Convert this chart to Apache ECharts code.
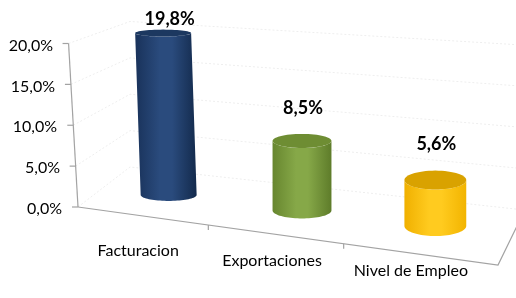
<!DOCTYPE html>
<html>
<head>
<meta charset="utf-8">
<script src="https://cdn.jsdelivr.net/npm/echarts@6/dist/echarts.min.js"></script>
<style>
  html, body { margin: 0; padding: 0; background: #fff; }
  #chart { width: 516px; height: 298px; }
</style>
</head>
<body>
<div id="chart"></div>
<script>
// data
const categories = ['Facturacion', 'Exportaciones', 'Nivel de Empleo'];
const values = [19.8, 8.5, 5.6];
const valueLabels = ['19,8%', '8,5%', '5,6%'];
const yTicks = [0, 5, 10, 15, 20];
const yTickLabels = ['0,0%', '5,0%', '10,0%', '15,0%', '20,0%'];

// cylinder colours: left edge, highlight, right edge, top face
const barColors = [
  ['#19325a', '#2a4b7d', '#132a4c', '#1c3860'],
  ['#67862f', '#86a848', '#5e7c2a', '#6e8d33'],
  ['#f0b000', '#ffcb1f', '#f2b400', '#d9a200']
];

const FONT = 'Lato, "Open Sans", sans-serif';

// fake 3D camera: the floor behind the bars slopes down to the right
const FLOOR_SLOPE = 0.116;
const FLOOR_LIFT = -19.8;
const LABEL_MIN_Y = 19;

function lean(x) {
  // verticals lean a little on the left side of the picture
  return Math.max(0, 0.00026 * (300 - x));
}
function ellipseRy(x, y) {
  return Math.max(2.5, 6 + 0.015 * (y - 196) + 0.014 * (x - 170));
}
function ellipsePts(cx, cy, rx, ry, a0, a1, n) {
  const pts = [];
  for (let i = 0; i <= n; i++) {
    const a = a0 + (a1 - a0) * i / n;
    pts.push([cx + rx * Math.cos(a), cy + ry * Math.sin(a)]);
  }
  return pts;
}

function renderCylinder(params, api) {
  const idx = params.dataIndex;
  const L = params.coordSys.x;
  const p0 = api.coord([idx, 0]);
  const p1 = api.coord([idx, api.value(1)]);
  const h = p0[1] - p1[1];
  const bx = p0[0];
  const by = p0[1] + FLOOR_LIFT + FLOOR_SLOPE * (p0[0] - L);
  const tx = bx - lean(bx) * h;
  const ty = by - h;
  const rx = 28 + 0.011 * (bx - 170);
  const ryB = ellipseRy(bx, by);
  const ryT = ellipseRy(tx, ty);
  const c = barColors[idx];

  let body = [[tx - rx, ty], [bx - rx, by]];
  body = body.concat(ellipsePts(bx, by, rx, ryB, Math.PI, 0, 40));
  body.push([tx + rx, ty]);
  body = body.concat(ellipsePts(tx, ty, rx, ryT, 0, Math.PI, 40));

  const labelY = Math.max(LABEL_MIN_Y, ty - 33 - 0.025 * (bx - 302));

  return {
    type: 'group',
    children: [
      {
        type: 'polygon',
        shape: { points: body },
        style: {
          fill: new echarts.graphic.LinearGradient(0, 0, 1, 0, [
            { offset: 0, color: c[0] },
            { offset: 0.4, color: c[1] },
            { offset: 0.6, color: c[1] },
            { offset: 1, color: c[2] }
          ])
        }
      },
      {
        type: 'polygon',
        shape: { points: ellipsePts(tx, ty, rx, ryT, 0, Math.PI * 2, 60) },
        style: { fill: c[3] }
      },
      {
        type: 'text',
        style: {
          text: valueLabels[idx],
          x: bx + 1,
          y: labelY,
          align: 'center',
          verticalAlign: 'middle',
          font: 'bold 18px ' + FONT,
          fill: '#000'
        }
      }
    ]
  };
}

function renderFrame(params, api) {
  const cs = params.coordSys;
  const L = cs.x, T = cs.y, R = cs.x + cs.width, B = cs.y + cs.height;
  const W = api.getWidth();
  const axisColor = '#a3a3a3';
  const gridColor = '#eeeeee';
  const x0 = L - 24;
  const axisX = y => x0 - lean(x0) * (B - y);
  const frontEnd = [R - 4, B + 58];
  const frontY = x => B + (frontEnd[1] - B) * (x - x0) / (frontEnd[0] - x0);
  const backX = L + 28;
  const children = [];

  // faint walls
  yTicks.forEach(v => {
    const y = api.coord([0, v])[1];
    const hh = B - y;
    const yb = B - 40 - hh * 0.89;
    const s = 0.109 - 0.0003 * hh;
    children.push({
      type: 'polyline',
      shape: { points: [[axisX(y), y], [backX, yb], [W, yb + s * (W - backX)]] },
      style: { stroke: gridColor, lineWidth: 1, lineDash: [2, 2], fill: null }
    });
  });

  // value axis with ticks
  children.push({
    type: 'line',
    shape: { x1: axisX(B), y1: B, x2: axisX(T), y2: T },
    style: { stroke: axisColor, lineWidth: 1.2 }
  });
  yTicks.forEach(v => {
    const y = api.coord([0, v])[1];
    children.push({
      type: 'line',
      shape: { x1: axisX(y) - 6, y1: y, x2: axisX(y), y2: y },
      style: { stroke: axisColor, lineWidth: 1.2 }
    });
  });

  // floor front edge, right edge and category ticks
  children.push({
    type: 'polyline',
    shape: { points: [[x0, B], frontEnd, [frontEnd[0] + 20, frontEnd[1] - 41]] },
    style: { stroke: axisColor, lineWidth: 1.2, fill: null }
  });
  const bw = api.size([1, 0])[0];
  for (let i = 1; i < categories.length; i++) {
    const x = api.coord([i, 0])[0] - bw / 2 - 29 + i * 2;
    const y = frontY(x);
    children.push({
      type: 'line',
      shape: { x1: x, y1: y, x2: x, y2: y + 5 },
      style: { stroke: axisColor, lineWidth: 1.2 }
    });
  }
  return { type: 'group', children: children };
}

const yRich = {};
yTicks.forEach(v => {
  yRich['p' + v] = {
    fontFamily: FONT, fontSize: 16, color: '#000',
    padding: [4, Math.round(v * 0.45), 0, 0]
  };
});
const xPads = [[0, 61], [19, 60], [39, 49]];
const xRich = {};
categories.forEach((c, i) => {
  xRich['c' + i] = {
    fontFamily: FONT, fontSize: 16, color: '#000', lineHeight: 18,
    padding: [xPads[i][0], xPads[i][1], 0, 0]
  };
});

const chart = echarts.init(document.getElementById('chart'));
chart.setOption({
  animation: false,
  grid: { left: 102, right: 14, top: 43.5, bottom: 91, outerBoundsMode: 'none' },
  xAxis: {
    type: 'category',
    data: categories,
    axisLine: { show: false },
    axisTick: { show: false },
    splitLine: { show: false },
    axisLabel: {
      interval: 0,
      margin: 35,
      formatter: (v, i) => '{c' + i + '|' + v + '}',
      rich: xRich
    }
  },
  yAxis: {
    type: 'value',
    min: 0, max: 20, interval: 5,
    axisLine: { show: false },
    axisTick: { show: false },
    splitLine: { show: false },
    axisLabel: {
      margin: 40,
      formatter: v => '{p' + v + '|' + yTickLabels[yTicks.indexOf(v)] + '}',
      rich: yRich
    }
  },
  series: [
    {
      type: 'custom',
      silent: true,
      z: 1,
      renderItem: renderFrame,
      data: [[0, 0]]
    },
    {
      type: 'custom',
      z: 2,
      renderItem: renderCylinder,
      data: values.map((v, i) => [i, v])
    }
  ]
});
</script>
</body>
</html>
